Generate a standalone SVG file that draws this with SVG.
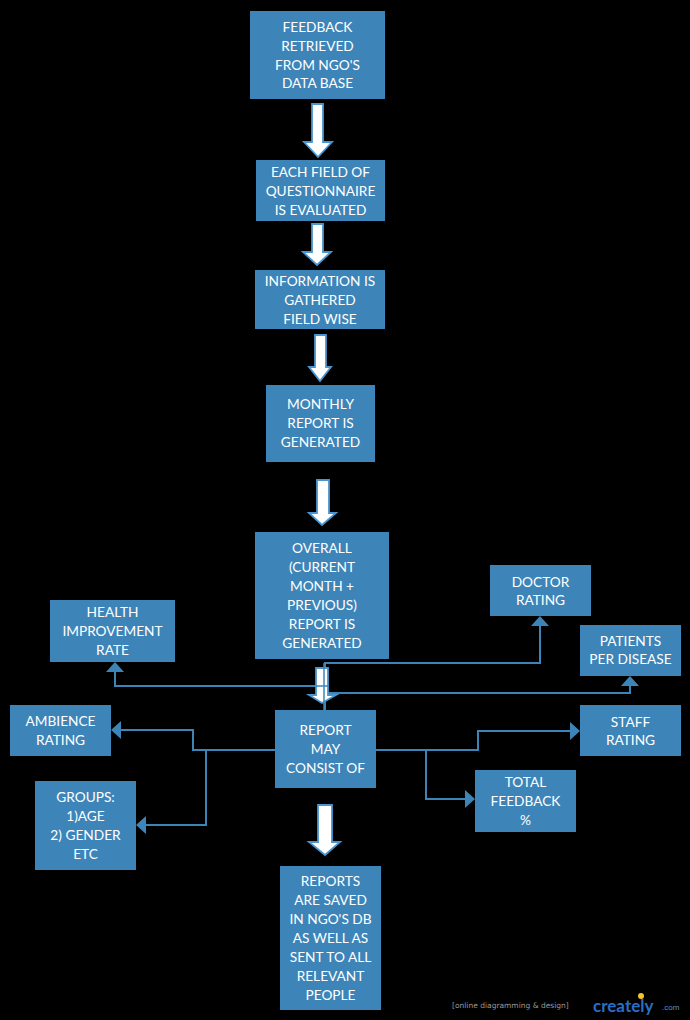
<svg xmlns="http://www.w3.org/2000/svg" width="690" height="1020" viewBox="0 0 690 1020">
<defs>
<style>
.box{fill:#3d85b8;}
.t{font-family:Lato,"Noto Sans","Liberation Sans",sans-serif;font-size:13.7px;fill:#ffffff;text-anchor:middle;}
.blk{fill:#ffffff;stroke:#4a95cf;stroke-width:1.8;stroke-linejoin:miter;}
.c{fill:none;stroke:#3d85b8;stroke-width:2;}
.ah{fill:#3d85b8;}
.wm{font-family:"DejaVu Sans","Liberation Sans",sans-serif;font-size:7.5px;fill:#9a9a9a;}
.logo{font-family:Lato,"Liberation Sans",sans-serif;font-size:17px;font-weight:bold;fill:#2a6fc4;}
</style>
</defs>
<rect width="690" height="1020" fill="#000000"/>

<g id="connectors">
<path class="c" d="M325,710 V663 H540 V625"/>
<path class="c" d="M325,710 V693 H630 V685"/>
<path class="c" d="M325,710 V686 H115 V671"/>
<path class="c" d="M275,750 H193 V730 H120"/>
<path class="c" d="M206,750 V825 H145"/>
<path class="c" d="M376,750 H478 V731 H571"/>
<path class="c" d="M426,750 V799 H466"/>
<path class="ah" d="M531,626 L540,616 L549,626 z"/>
<path class="ah" d="M621,686 L630,676 L639,686 z"/>
<path class="ah" d="M106,672 L115,662 L124,672 z"/>
<path class="ah" d="M121,721 L111,730 L121,739 z"/>
<path class="ah" d="M146,816 L136,825 L146,834 z"/>
<path class="ah" d="M570,722 L580,731 L570,740 z"/>
<path class="ah" d="M465,790 L475,799 L465,808 z"/>
</g>

<g id="arrows">
<path class="blk" d="M312,104 H323 V142 H332 L318,157 L304,142 H312 Z"/>
<path class="blk" d="M312,224 H323 V252 H331 L317,265 L303,252 H312 Z"/>
<path class="blk" d="M315,335 H326 V367 H331 L320,381 L309,367 H315 Z"/>
<path class="blk" d="M317,480 H329 V513 H336 L322,525 L309,513 H317 Z"/>
<path class="blk" d="M316,668 H328 V695 H336 L322,703 L309,695 H316 Z"/>
<path class="blk" d="M318,805 H332 V842 H340 L325,855 L309,842 H318 Z"/>
<line x1="316" y1="686" x2="328" y2="686" stroke="#3d85b8" stroke-width="1.5"/>
<line x1="324" y1="663" x2="324" y2="710" stroke="#3d85b8" stroke-width="1.5"/>
</g>

<g id="n1">
<rect class="box" x="250" y="11" width="135" height="88"/>
<text class="t" x="317.5" y="32">FEEDBACK</text>
<text class="t" x="317.5" y="51">RETRIEVED</text>
<text class="t" x="317.5" y="70">FROM NGO'S</text>
<text class="t" x="317.5" y="88">DATA BASE</text>
</g>
<g id="n2">
<rect class="box" x="256" y="160" width="129" height="61"/>
<text class="t" x="320.5" y="177">EACH FIELD OF</text>
<text class="t" x="320.5" y="196">QUESTIONNAIRE</text>
<text class="t" x="320.5" y="215">IS EVALUATED</text>
</g>
<g id="n3">
<rect class="box" x="255" y="270" width="130" height="59"/>
<text class="t" x="320" y="286">INFORMATION IS</text>
<text class="t" x="320" y="305">GATHERED</text>
<text class="t" x="320" y="324">FIELD WISE</text>
</g>
<g id="n4">
<rect class="box" x="266" y="385" width="109" height="77"/>
<text class="t" x="320.5" y="409">MONTHLY</text>
<text class="t" x="320.5" y="428">REPORT IS</text>
<text class="t" x="320.5" y="447">GENERATED</text>
</g>
<g id="n5">
<rect class="box" x="255" y="532" width="134" height="127"/>
<text class="t" x="322" y="553">OVERALL</text>
<text class="t" x="322" y="572">(CURRENT</text>
<text class="t" x="322" y="591">MONTH +</text>
<text class="t" x="322" y="610">PREVIOUS)</text>
<text class="t" x="322" y="629">REPORT IS</text>
<text class="t" x="322" y="648">GENERATED</text>
</g>
<g id="n-health">
<rect class="box" x="50" y="600" width="125" height="62"/>
<text class="t" x="112.5" y="617">HEALTH</text>
<text class="t" x="112.5" y="636">IMPROVEMENT</text>
<text class="t" x="112.5" y="655">RATE</text>
</g>
<g id="n-doctor">
<rect class="box" x="490" y="565" width="101" height="51"/>
<text class="t" x="540.5" y="587">DOCTOR</text>
<text class="t" x="540.5" y="605">RATING</text>
</g>
<g id="n-patients">
<rect class="box" x="580" y="625" width="101" height="51"/>
<text class="t" x="630.5" y="646">PATIENTS</text>
<text class="t" x="630.5" y="664">PER DISEASE</text>
</g>
<g id="n-ambience">
<rect class="box" x="10" y="705" width="101" height="51"/>
<text class="t" x="60.5" y="726">AMBIENCE</text>
<text class="t" x="60.5" y="745">RATING</text>
</g>
<g id="n-report">
<rect class="box" x="275" y="710" width="101" height="78"/>
<text class="t" x="325.5" y="735">REPORT</text>
<text class="t" x="325.5" y="754">MAY</text>
<text class="t" x="325.5" y="773">CONSIST OF</text>
</g>
<g id="n-staff">
<rect class="box" x="580" y="705" width="101" height="51"/>
<text class="t" x="630.5" y="727">STAFF</text>
<text class="t" x="630.5" y="745">RATING</text>
</g>
<g id="n-groups">
<rect class="box" x="35" y="781" width="101" height="89"/>
<text class="t" x="85.5" y="802">GROUPS:</text>
<text class="t" x="85.5" y="821">1)AGE</text>
<text class="t" x="85.5" y="840">2) GENDER</text>
<text class="t" x="85.5" y="859">ETC</text>
</g>
<g id="n-total">
<rect class="box" x="475" y="770" width="101" height="62"/>
<text class="t" x="525.5" y="787">TOTAL</text>
<text class="t" x="525.5" y="806">FEEDBACK</text>
<text class="t" x="525.5" y="825">%</text>
</g>
<g id="n-final">
<rect class="box" x="280" y="866" width="101" height="144"/>
<text class="t" x="330.5" y="886">REPORTS</text>
<text class="t" x="330.5" y="905">ARE SAVED</text>
<text class="t" x="330.5" y="924">IN NGO'S DB</text>
<text class="t" x="330.5" y="943">AS WELL AS</text>
<text class="t" x="330.5" y="962">SENT TO ALL</text>
<text class="t" x="330.5" y="981">RELEVANT</text>
<text class="t" x="330.5" y="1000">PEOPLE</text>
</g>

<g id="watermark">
<text class="wm" x="452" y="1008">[online diagramming &amp; design]</text>
<circle cx="641" cy="996" r="3" fill="#f5c330"/>
<text class="logo" x="593" y="1012">creately</text>
<text x="662" y="1010" font-family="'Liberation Sans',sans-serif" font-size="8" fill="#5b8fcc">.com</text>
</g>
</svg>
